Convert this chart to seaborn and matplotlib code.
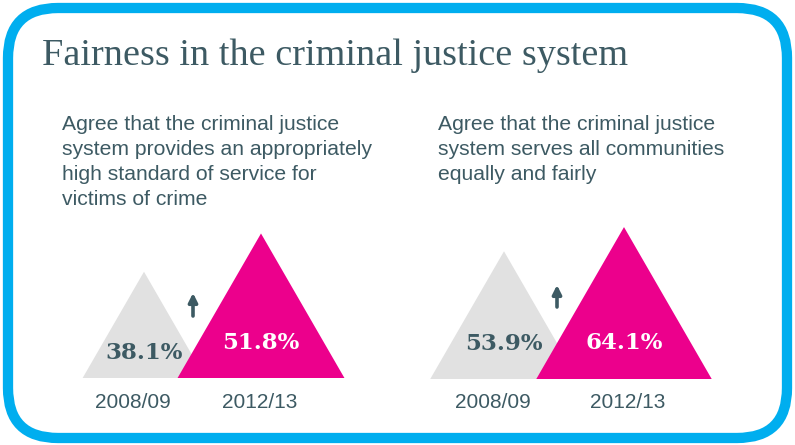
import numpy as np
import matplotlib
matplotlib.use("Agg")
import matplotlib.pyplot as plt
from matplotlib.patches import FancyBboxPatch
import seaborn as sns

# ---- data ----
title = "Fairness in the criminal justice system"
questions = [
    "Agree that the criminal justice\nsystem provides an appropriately\nhigh standard of service for\nvictims of crime",
    "Agree that the criminal justice\nsystem serves all communities\nequally and fairly",
]
years = ["2008/09", "2012/13"]
service_pct = [38.1, 51.8]
fairness_pct = [53.9, 64.1]

# ---- style ----
sns.set_theme(style="white")
plt.rcParams["font.family"] = ["Liberation Sans", "DejaVu Sans"]

TEXT = "#3D5A63"
GREY = "#E1E1E1"
PINK = "#EC008C"
BLUE = "#00AEEF"

W, H = 795, 445
fig = plt.figure(figsize=(W / 100, H / 100), dpi=100)

# full-figure canvas in pixel units for the frame and headings
bg = fig.add_axes([0, 0, 1, 1])
bg.set_xlim(0, W)
bg.set_ylim(H, 0)
bg.axis("off")

frame = FancyBboxPatch((8, 8), W - 16, H - 15,
                       boxstyle="round,pad=0,rounding_size=50",
                       fill=False, edgecolor=BLUE, linewidth=7.4)
bg.add_patch(frame)

bg.text(42, 65, title, family=["Liberation Serif", "DejaVu Serif"],
        fontsize=27.5, color=TEXT, va="baseline", ha="left")

bg.text(62, 115, questions[0], fontsize=15.2, color=TEXT, va="top", ha="left",
        linespacing=1.4)
bg.text(438, 115, questions[1], fontsize=15.2, color=TEXT, va="top", ha="left",
        linespacing=1.4)

# panel layout in pixels: left, right, top, baseline, px per percentage point,
# triangle centres, year label centres, value label lifts, arrow x / tip / tail
panels = [
    dict(vals=service_pct, x0=60, x1=370, top=200, base=378, k=2.79,
         cx=[144, 261], yx=[133, 260], lift=[25, 35], arrow=(193, 293, 316)),
    dict(vals=fairness_pct, x0=420, x1=740, top=200, base=379, k=2.37,
         cx=[504, 624], yx=[493, 628], lift=[35, 36], arrow=(557, 285, 307)),
]

colors = [GREY, PINK]
label_colors = [TEXT, "white"]

for p in panels:
    k = p["k"]
    ax = fig.add_axes([p["x0"] / W, (H - p["base"]) / H,
                       (p["x1"] - p["x0"]) / W, (p["base"] - p["top"]) / H])
    ax.set_xlim(0, (p["x1"] - p["x0"]) / k)
    ax.set_ylim(0, (p["base"] - p["top"]) / k)
    ax.patch.set_alpha(0)
    ax.axis("off")

    for i, v in enumerate(p["vals"]):
        c = (p["cx"][i] - p["x0"]) / k
        hw = v / np.sqrt(3)  # equilateral triangle whose height is the value
        ax.fill([c - hw, c, c + hw], [0, v, 0], color=colors[i], lw=0)
        ax.text(c, p["lift"][i] / k, f"{v:.1f}%",
                family=["DejaVu Serif"], fontweight="bold", fontsize=16.5,
                color=label_colors[i], ha="center", va="center")
        ax.text((p["yx"][i] - p["x0"]) / k, -24 / k, years[i], fontsize=15,
                color=TEXT, ha="center", va="center", clip_on=False)

    ax_x, tip, tail = p["arrow"]
    bg.annotate("", xy=(ax_x, tip), xytext=(ax_x, tail),
                arrowprops=dict(arrowstyle="-|>", color=TEXT, lw=2.6,
                                mutation_scale=13, shrinkA=0, shrinkB=0))

fig.savefig("out.png", dpi=100)
